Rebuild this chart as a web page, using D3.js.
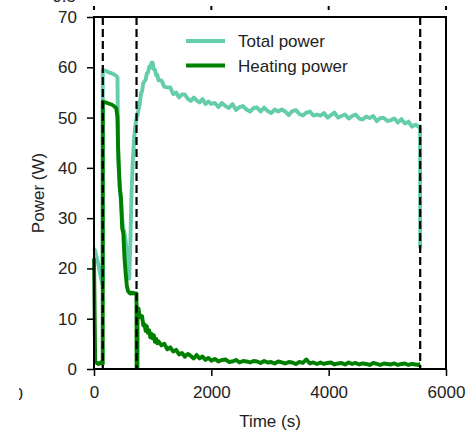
<!DOCTYPE html>
<html>
<head>
<meta charset="utf-8">
<script src="https://cdn.jsdelivr.net/npm/d3@7"></script>
<style>
  body { margin: 0; background: #fff; }
  svg text { font-family: "Liberation Sans", Arial, sans-serif; fill: #222; }
</style>
</head>
<body>
<div id="chart"></div>
<script>
// time stamps (s), shared by both series
var timeS = [
  0, 20, 50, 80, 110, 140, 149,
  150, 200, 250, 300, 350, 380, 400,
  410, 420, 440, 460, 480, 500, 520, 540, 560, 580, 600,
  620, 640, 660, 680, 700, 720, 724,
  726, 740, 742, 750,
  760, 780, 800, 820, 840, 860, 880, 900, 920, 940, 960, 980, 1000, 1020, 1040, 1060, 1080, 1100,
  1150, 1200, 1250, 1300, 1350, 1400, 1450, 1500, 1550, 1600, 1650, 1700, 1750, 1800, 1850, 1900, 1950, 2000,
  2060, 2120, 2180, 2240, 2300, 2360, 2420, 2480, 2540, 2600,
  2660, 2720, 2780, 2840, 2900, 2960, 3020, 3080, 3140, 3200,
  3260, 3320, 3380, 3440, 3500, 3560, 3620, 3680, 3740, 3800,
  3860, 3920, 3980, 4040, 4100, 4160, 4220, 4280, 4340, 4400,
  4460, 4520, 4580, 4640, 4700, 4760, 4820, 4880, 4940, 5000,
  5060, 5120, 5180, 5240, 5300, 5360, 5420, 5480, 5540, 5558, 5560
];

var totalPower = [
  24, 23.5, 22, 20.5, 18.5, 17, 16.5,
  59.5, 59.3, 59.0, 58.8, 58.5, 58.3, 58.0,
  45, 40, 36, 33, 30, 28, 27, 25.5, 23, 19, 18,
  25, 35, 41, 45, 48, 49.5, 49.8,
  50, 50.5, 50.7, 51,
  51.7, 52.7, 54.7, 55.3, 56.9, 57.2, 57.5, 58.8, 58.9, 60.1, 59.9, 60.9, 60.9, 59.6, 59.5, 58.4, 58.5, 57.4,
  57.4, 56.1, 56.0, 56.0, 54.7, 55.0, 54.0, 54.6, 54.6, 53.7, 53.3, 54.0, 53.4, 53.0, 53.7, 52.7, 53.2, 52.7,
  52.9, 52.1, 52.9, 52.3, 51.9, 52.7, 51.5, 52.1, 52.3, 51.6,
  51.2, 51.9, 52.0, 51.2, 52.0, 51.3, 50.9, 51.6, 51.2, 51.6,
  51.2, 50.5, 51.3, 51.5, 50.7, 50.4, 51.0, 51.2, 50.4, 50.6,
  50.4, 50.9, 50.0, 50.5, 51.0, 50.0, 50.3, 50.6, 49.8, 50.3,
  50.6, 49.8, 49.6, 50.2, 49.9, 50.3, 49.3, 49.9, 49.9, 49.3,
  49.5, 49.8, 49.0, 49.7, 48.8, 49.2, 48.2, 48.6, 48.1, 48.2, 24.0
];

var heatingPower = [
  22, 1.5, 1.2, 1.0, 1.3, 1.1, 1.0,
  53.2, 53.0, 52.8, 52.6, 52.2, 51.8, 50.0,
  44, 41, 36, 34, 28, 27, 22, 19, 16.5, 15.5, 15.2,
  15.0, 15.2, 15.0, 15.1, 15.0, 15.0, 15.0,
  0.3, 0.2, 12.2, 11.5,
  12.0, 10.3, 10.6, 10.5, 8.7, 8.9, 7.6, 8.5, 7.2, 7.7, 6.3, 7.0, 6.1, 6.7, 5.4, 6.0, 5.1, 5.5,
  4.7, 5.0, 3.9, 4.3, 3.5, 3.8, 2.9, 3.2, 2.45, 3.0, 2.6, 2.1, 2.8, 2.1, 2.5, 1.8, 2.2, 1.65,
  2.0, 1.5, 1.8, 1.9, 1.4, 1.5, 1.8, 1.3, 1.6, 1.5,
  1.3, 1.6, 1.5, 1.2, 1.6, 1.3, 1.4, 1.1, 1.5, 1.3,
  1.1, 1.4, 1.3, 1.0, 1.4, 1.2, 1.9, 1.1, 1.3, 1.0,
  1.3, 1.0, 1.2, 1.3, 0.9, 1.1, 1.2, 0.9, 1.3, 1.0,
  1.2, 0.9, 1.1, 1.0, 0.8, 1.2, 1.0, 0.8, 1.1, 1.0,
  0.9, 1.1, 0.8, 1.0, 1.1, 0.8, 1.0, 0.9, 0.8, 1.0, 1.0
];

// vertical dashed markers (s)
var markerTimes = [150, 725, 5560];

var xTicks = [0, 2000, 4000, 6000];
var yTicks = [0, 10, 20, 30, 40, 50, 60, 70];

var seriesNames = ["Total power", "Heating power"];
var colors = { total: "#66cdaa", heating: "#008000" };

var dim = {
  width: 470,
  height: 434,
  left: 94,
  right: 446,
  top: 17,
  bottom: 369,
  fontSize: 17,
  tickLen: 7,
  lineWidth: 3.9
};

var svg = d3.select("#chart").append("svg")
  .attr("width", dim.width)
  .attr("height", dim.height);

var x = d3.scaleLinear().domain([0, 6000]).range([dim.left, dim.right]);
var y = d3.scaleLinear().domain([0, 70]).range([dim.bottom, dim.top]);

// bits of the neighbouring panels that got cropped in
svg.append("clipPath").attr("id", "leftcrop")
  .append("rect").attr("x", 19).attr("y", 0).attr("width", 460).attr("height", dim.height);
svg.append("text")
  .attr("clip-path", "url(#leftcrop)")
  .attr("x", 23).attr("y", 400)
  .style("text-anchor", "end")
  .style("font-size", dim.fontSize + "px")
  .text("6000");
svg.append("text")
  .attr("x", 76).attr("y", 2)
  .style("text-anchor", "end")
  .style("font-size", dim.fontSize + "px")
  .text("0.5");
svg.selectAll(".upper-tick")
  .data(xTicks)
  .enter().append("line")
  .attr("class", "upper-tick")
  .attr("x1", function(d) { return x(d); })
  .attr("x2", function(d) { return x(d); })
  .attr("y1", 6)
  .attr("y2", 10)
  .attr("stroke", "#000")
  .attr("stroke-width", 2);

// data lines
var rows = timeS.map(function(t, i) {
  return { t: t, total: totalPower[i], heating: heatingPower[i] };
});

var totalLine = d3.line()
  .x(function(d) { return x(d.t); })
  .y(function(d) { return y(d.total); });
var heatingLine = d3.line()
  .x(function(d) { return x(d.t); })
  .y(function(d) { return y(d.heating); });

svg.append("path")
  .datum(rows)
  .attr("d", totalLine)
  .attr("fill", "none")
  .attr("stroke", colors.total)
  .attr("stroke-width", dim.lineWidth)
  .attr("stroke-linejoin", "round");

svg.append("path")
  .datum(rows)
  .attr("d", heatingLine)
  .attr("fill", "none")
  .attr("stroke", colors.heating)
  .attr("stroke-width", dim.lineWidth)
  .attr("stroke-linejoin", "round");

// dashed markers
svg.selectAll(".marker")
  .data(markerTimes)
  .enter().append("line")
  .attr("class", "marker")
  .attr("x1", function(d) { return x(d); })
  .attr("x2", function(d) { return x(d); })
  .attr("y1", dim.top)
  .attr("y2", dim.bottom)
  .attr("stroke", "#000")
  .attr("stroke-width", 2.2)
  .attr("stroke-dasharray", "8,4");

// axes
var xAxis = svg.append("g")
  .attr("transform", "translate(0," + dim.bottom + ")")
  .call(d3.axisBottom(x).tickValues(xTicks).tickFormat(d3.format("d"))
    .tickSize(dim.tickLen).tickPadding(10).tickSizeOuter(0));
var yAxis = svg.append("g")
  .attr("transform", "translate(" + dim.left + ",0)")
  .call(d3.axisLeft(y).tickValues(yTicks).tickFormat(d3.format("d"))
    .tickSize(dim.tickLen).tickPadding(10).tickSizeOuter(0));

[xAxis, yAxis].forEach(function(g) {
  g.select(".domain").remove();
  g.selectAll("line").attr("stroke", "#000").attr("stroke-width", 1.5);
  g.selectAll("text")
    .style("font-size", dim.fontSize + "px")
    .style("font-family", '"Liberation Sans", Arial, sans-serif')
    .attr("fill", "#222");
});

// box around the plot
svg.append("rect")
  .attr("x", dim.left)
  .attr("y", dim.top)
  .attr("width", dim.right - dim.left)
  .attr("height", dim.bottom - dim.top)
  .attr("fill", "none")
  .attr("stroke", "#000")
  .attr("stroke-width", 2);

// axis titles
svg.append("text")
  .attr("x", (dim.left + dim.right) / 2)
  .attr("y", 427)
  .style("text-anchor", "middle")
  .style("font-size", dim.fontSize + "px")
  .text("Time (s)");

svg.append("text")
  .attr("transform", "translate(44," + (dim.top + dim.bottom) / 2 + ") rotate(-90)")
  .style("text-anchor", "middle")
  .style("font-size", dim.fontSize + "px")
  .text("Power (W)");

// legend
var legendColors = [colors.total, colors.heating];
var legend = svg.selectAll(".legend")
  .data(seriesNames)
  .enter().append("g")
  .attr("class", "legend")
  .attr("transform", function(d, i) { return "translate(186," + (41 + i * 24.5) + ")"; });

legend.append("line")
  .attr("x1", 0).attr("x2", 39)
  .attr("y1", 0).attr("y2", 0)
  .attr("stroke", function(d, i) { return legendColors[i]; })
  .attr("stroke-width", 4);

legend.append("text")
  .attr("x", 52)
  .attr("y", 6)
  .style("font-size", dim.fontSize + "px")
  .text(function(d) { return d; });
</script>
</body>
</html>
